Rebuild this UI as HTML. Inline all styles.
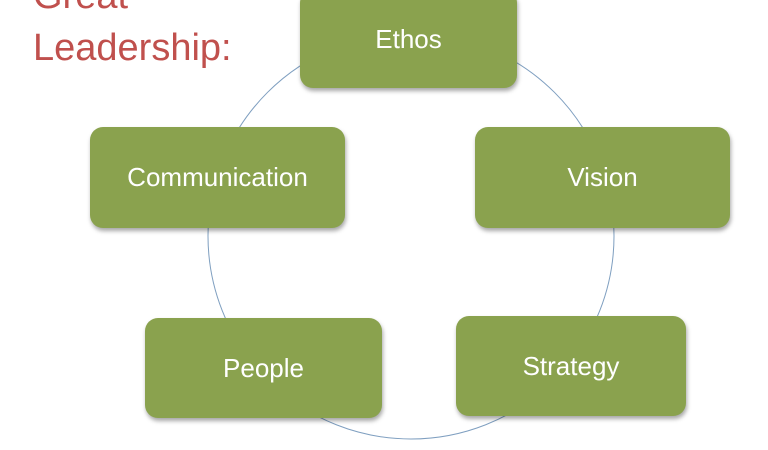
<!DOCTYPE html>
<html><head><style>
body{margin:0;width:768px;height:450px;overflow:hidden;background:#fff;position:relative;font-family:"Liberation Sans",sans-serif}
.t{position:absolute;left:33px;color:#c0504d;font-size:38px;line-height:1}
.b{position:absolute;background:#8aa24e;border-radius:13px;color:#fff;font-size:26px;display:flex;align-items:center;justify-content:center;box-shadow:1px 3px 4px rgba(0,0,0,0.35)}
</style></head><body>
<svg width="768" height="450" style="position:absolute;left:0;top:0"><circle cx="411" cy="236" r="203" fill="none" stroke="#7f9fc0" stroke-width="1"/></svg>
<div class="t" style="top:-23px">Great</div>
<div class="t" style="top:29px">Leadership:</div>
<div class="b" style="left:300px;top:-10px;width:217px;height:98px;align-items:flex-start"><span style="margin-top:34px">Ethos</span></div>
<div class="b" style="left:90px;top:127px;width:255px;height:101px">Communication</div>
<div class="b" style="left:475px;top:127px;width:255px;height:101px">Vision</div>
<div class="b" style="left:145px;top:318px;width:237px;height:100px">People</div>
<div class="b" style="left:456px;top:316px;width:230px;height:100px">Strategy</div>
</body></html>
